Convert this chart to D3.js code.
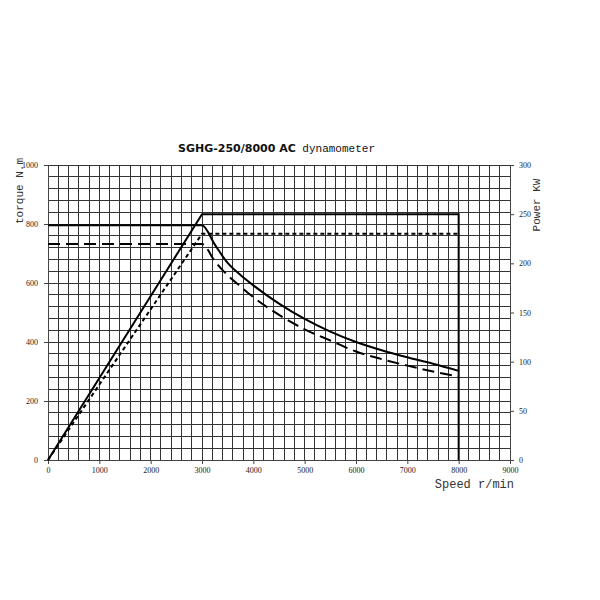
<!DOCTYPE html>
<html><head><meta charset="utf-8">
<script src="https://cdn.jsdelivr.net/npm/d3@7/dist/d3.min.js"></script>
<style>body{margin:0;background:#fff;}</style>
</head><body>
<svg id="c" width="600" height="600"></svg>
<script>
// ---- data ----
const speedTicks = [0,1000,2000,3000,4000,5000,6000,7000,8000,9000];
const torqueTicks = [0,200,400,600,800,1000];
const powerTicks = [0,50,100,150,200,250,300];
const curveSpeed = [0,3000,3250,3500,3750,4000,4500,5000,5500,6000,6500,7000,7500,8000];
const torqueRated = [796,796,730,668,627,592,530,478,435,400,372,348,326,302];
const torqueDashed = [732,732,674,626,588,552,492,443,405,368,342,320,300,283];
const powerSpeed = [0,3000,8000,8000];
const powerRated = [0,250,250,0];
const powerDashedSpeed = [0,3000,8000];
const powerDashed = [0,230,230];

const svg = d3.select("#c");
const x = d3.scaleLinear().domain([0,9000]).range([48,510]);
const yT = d3.scaleLinear().domain([0,1000]).range([460,165]);
const yP = d3.scaleLinear().domain([0,300]).range([460,165]);

// grid
const g = svg.append("g").attr("shape-rendering","crispEdges");
g.selectAll(".v").data(d3.range(0,9001,200)).join("line")
  .attr("x1",d=>x(d)).attr("x2",d=>x(d)).attr("y1",yT(0)).attr("y2",yT(1000))
  .attr("stroke","#333").attr("stroke-width",1);
g.selectAll(".h").data(d3.range(0,1001,40)).join("line")
  .attr("y1",d=>yT(d)).attr("y2",d=>yT(d)).attr("x1",x(0)).attr("x2",x(9000))
  .attr("stroke","#333").attr("stroke-width",1);

// axes
const fontTick = "Liberation Serif";
const fmt = d3.format("d");
const ax = svg.append("g").attr("transform",`translate(0,${yT(0)})`)
  .call(d3.axisBottom(x).tickValues(speedTicks).tickFormat(fmt).tickSize(4).tickPadding(3));
const al = svg.append("g").attr("transform",`translate(${x(0)},0)`)
  .call(d3.axisLeft(yT).tickValues(torqueTicks).tickFormat(fmt).tickSize(4).tickPadding(6));
const ar = svg.append("g").attr("transform",`translate(${x(9000)},0)`)
  .call(d3.axisRight(yP).tickValues(powerTicks).tickFormat(fmt).tickSize(4).tickPadding(5));
[ax,al,ar].forEach(a=>{
  a.selectAll("text").attr("font-family",fontTick).attr("font-size",8).attr("fill","#222");
  a.selectAll("line,path").attr("stroke","#444");
});

// lines
const lineT = d3.line().x(d=>x(d[0])).y(d=>yT(d[1])).curve(d3.curveMonotoneX);
const lineP = d3.line().x(d=>x(d[0])).y(d=>yP(d[1]));
svg.append("path").datum(d3.zip(curveSpeed,torqueRated)).attr("d",lineT)
  .attr("fill","none").attr("stroke","#000").attr("stroke-width",2);
svg.append("path").datum(d3.zip(curveSpeed,torqueDashed)).attr("d",lineT)
  .attr("fill","none").attr("stroke","#000").attr("stroke-width",2).attr("stroke-dasharray","12,6");
svg.append("path").datum(d3.zip(powerSpeed,powerRated)).attr("d",lineP)
  .attr("fill","none").attr("stroke","#000").attr("stroke-width",2);
svg.append("path").datum(d3.zip(powerDashedSpeed,powerDashed)).attr("d",lineP)
  .attr("fill","none").attr("stroke","#000").attr("stroke-width",2).attr("stroke-dasharray","4,3");

// titles
const t = svg.append("text").attr("x",178).attr("y",152).attr("fill","#111");
t.append("tspan").text("SGHG-250/8000 AC").attr("font-family","DejaVu Sans").attr("font-weight","bold").attr("font-size",11);
t.append("tspan").text(" dynamometer").attr("font-family","Liberation Mono").attr("font-size",11);

svg.append("text").text("Speed r/min").attr("x",514).attr("y",488).attr("text-anchor","end")
  .attr("font-family","Liberation Mono").attr("font-size",12).attr("fill","#333");
svg.append("text").text("torque N.m").attr("transform","translate(23,191) rotate(-90)").attr("text-anchor","middle")
  .attr("font-family","Liberation Mono").attr("font-size",11).attr("fill","#333");
svg.append("text").text("Power KW").attr("transform","translate(540,205) rotate(-90)").attr("text-anchor","middle")
  .attr("font-family","Liberation Mono").attr("font-size",11).attr("fill","#333");
</script>
</body></html>
